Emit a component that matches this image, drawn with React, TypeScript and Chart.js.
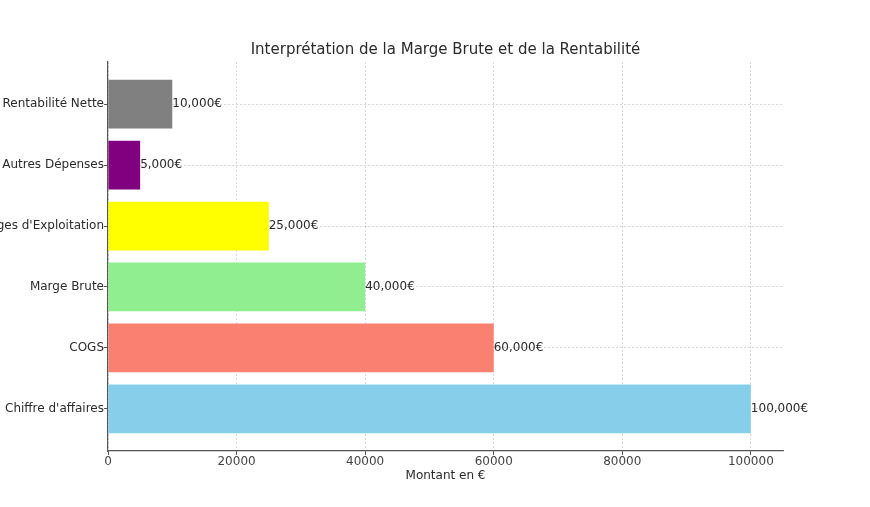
import { useEffect, useRef } from "react"
import { Chart, registerables } from "chart.js"

Chart.register(...registerables)

// bottom to top, as in the picture
const categories = [
  "Chiffre d'affaires",
  "COGS",
  "Marge Brute",
  "Charges d'Exploitation",
  "Autres Dépenses",
  "Rentabilité Nette",
]
const amounts = [100000, 60000, 40000, 25000, 5000, 10000]
const barColors = ["#87ceeb", "#fa8072", "#90ee90", "#ffff00", "#800080", "#808080"]
const xTicks = [0, 20000, 40000, 60000, 80000, 100000]

const FONT = "'DejaVu Sans', sans-serif"
const TEXT = "#2b2b2b"
const SPINE = "#555555"
const GRID = "rgba(0, 0, 0, 0.2)"

const fmt = (v: number) => v.toLocaleString("en-US") + "€"

export default function App() {
  const chartRef = useRef<HTMLCanvasElement>(null)
  const chartInstance = useRef<Chart | null>(null)

  useEffect(() => {
    if (!chartRef.current) return
    const ctx = chartRef.current.getContext("2d")
    if (!ctx) return

    // writes "10,000€" etc. at the end of each bar
    const valueLabels = {
      id: "valueLabels",
      afterDatasetsDraw(chart: Chart) {
        const c = chart.ctx
        const meta = chart.getDatasetMeta(0)
        c.save()
        c.font = `12px ${FONT}`
        c.fillStyle = TEXT
        c.textAlign = "left"
        c.textBaseline = "middle"
        meta.data.forEach((bar: any, i: number) => {
          c.fillText(fmt(amounts[i]), bar.x, bar.y)
        })
        c.restore()
      },
    }

    chartInstance.current = new Chart(ctx, {
      type: "bar",
      data: {
        datasets: [
          {
            data: amounts.map((v, i) => ({ x: v, y: i })),
            backgroundColor: barColors,
            borderWidth: 0,
            categoryPercentage: 1,
            barPercentage: 0.8,
          },
        ],
      },
      options: {
        indexAxis: "y",
        animation: false,
        responsive: true,
        maintainAspectRatio: false,
        layout: { padding: { left: 0, right: 87, top: 0, bottom: 0 } },
        font: { family: FONT },
        scales: {
          x: {
            type: "linear",
            min: 0,
            max: 105000,
            z: 1,
            afterFit: (scale: any) => {
              scale.height = 56
            },
            afterBuildTicks: (scale: any) => {
              scale.ticks = xTicks.map((v) => ({ value: v }))
            },
            ticks: {
              color: "#444444",
              font: { family: FONT, size: 12 },
              padding: 0,
              maxRotation: 0,
              callback: (v: any) => String(v),
            },
            grid: {
              color: GRID,
              lineWidth: 0.8,
              tickLength: 4,
              tickColor: SPINE,
              tickWidth: 1,
            },
            border: { display: true, color: SPINE, width: 1.2, dash: [2, 2] },
            title: {
              display: true,
              text: "Montant en €",
              color: TEXT,
              font: { family: FONT, size: 12 },
              padding: { top: 0, bottom: 24 },
            },
          },
          y: {
            type: "linear",
            min: -0.69,
            max: 5.69,
            offset: false,
            z: 1,
            afterFit: (scale: any) => {
              scale.width = 108
            },
            afterBuildTicks: (scale: any) => {
              scale.ticks = categories.map((_, i) => ({ value: i }))
            },
            ticks: {
              color: TEXT,
              font: { family: FONT, size: 12 },
              padding: 0,
              callback: (v: any) => categories[v] ?? "",
            },
            grid: {
              offset: false,
              color: GRID,
              lineWidth: 0.8,
              tickLength: 4,
              tickColor: SPINE,
              tickWidth: 1,
            },
            border: { display: true, color: SPINE, width: 1.2, dash: [2, 2] },
          },
        },
        plugins: {
          legend: { display: false },
          tooltip: { enabled: false },
          title: {
            display: true,
            fullSize: false,
            text: "Interprétation de la Marge Brute et de la Rentabilité",
            color: TEXT,
            font: { family: FONT, size: 15, weight: "normal" },
            padding: { top: 41.5, bottom: 2.5 },
          },
        },
      },
      plugins: [valueLabels],
    } as any)

    return () => {
      if (chartInstance.current) {
        chartInstance.current.destroy()
        chartInstance.current = null
      }
    }
  }, [])

  return (
    <div style={{ position: "absolute", left: 0, top: 0, width: 870, height: 507, background: "#fff" }}>
      <canvas ref={chartRef} />
    </div>
  )
}
